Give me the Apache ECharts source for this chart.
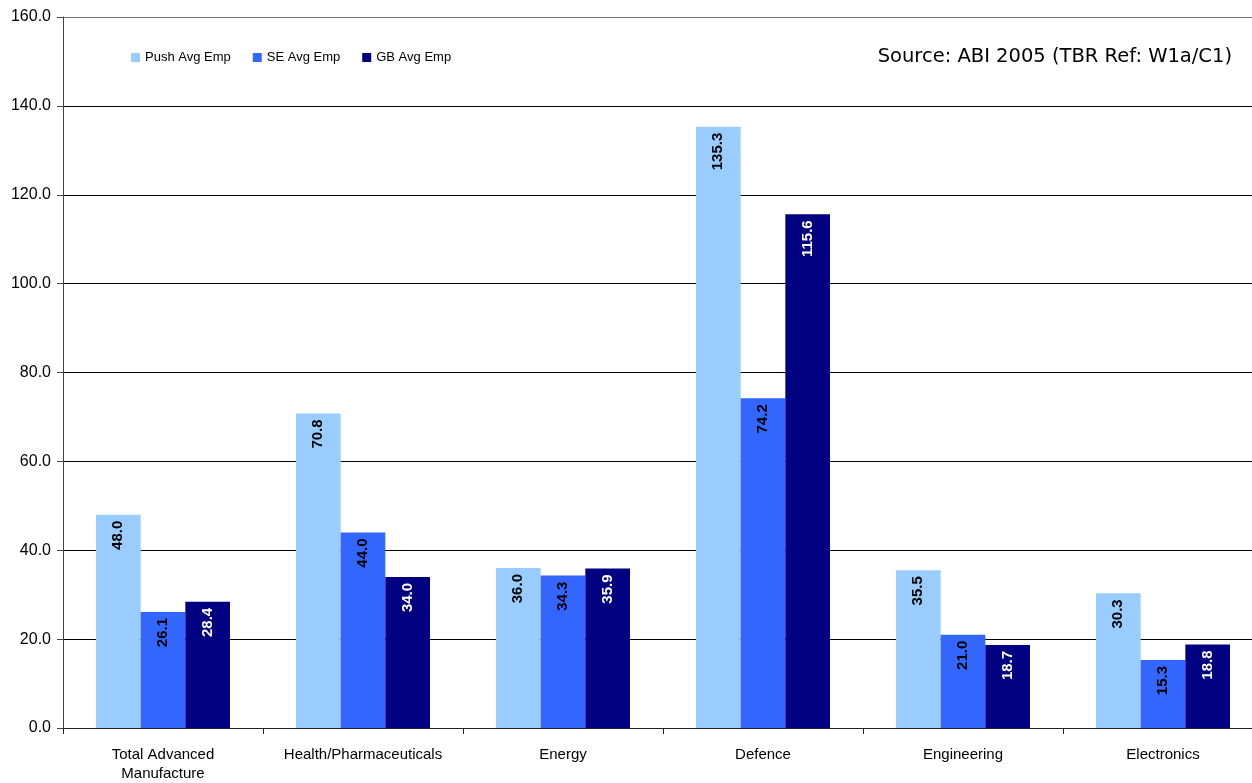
<!DOCTYPE html>
<html>
<head>
<meta charset="utf-8">
<script src="https://cdn.jsdelivr.net/npm/echarts@6/dist/echarts.min.js"></script>
<style>
  html, body { margin: 0; padding: 0; background: #fff; overflow: hidden; }
  /* the plot frame runs slightly past the right edge of the window */
  #chart { width: 1263px; height: 783px; }
</style>
</head>
<body>
<div id="chart"></div>
<script>
// Average employment per firm by sector
const categories = ['Total Advanced\nManufacture', 'Health/Pharmaceuticals', 'Energy', 'Defence', 'Engineering', 'Electronics'];
const pushAvgEmp = [48.0, 70.8, 36.0, 135.3, 35.5, 30.3];
const seAvgEmp = [26.1, 44.0, 34.3, 74.2, 21.0, 15.3];
const gbAvgEmp = [28.4, 34.0, 35.9, 115.6, 18.7, 18.8];
const seriesNames = ['Push Avg Emp', 'SE Avg Emp', 'GB Avg Emp'];
const sourceNote = 'Source: ABI 2005 (TBR Ref: W1a/C1)';

const font = '"Liberation Sans", Arial, sans-serif';

function barSeries(name, data, color, labelColor) {
  return {
    name: name,
    type: 'bar',
    data: data,
    barGap: '0%',
    barCategoryGap: '33%',
    itemStyle: { color: color },
    label: {
      show: true,
      position: 'insideTop',
      rotate: 90,
      align: 'right',
      verticalAlign: 'middle',
      distance: 6,
      color: labelColor,
      fontFamily: font,
      fontWeight: 'bold',
      fontSize: 15,
      formatter: p => p.value.toFixed(1)
    }
  };
}

// gridlines are black; the top edge of the plot is a grey frame line
const gridColors = ['#000', '#000', '#000', '#000', '#000', '#000', '#000', '#000', '#777'];

const chart = echarts.init(document.getElementById('chart'));
chart.setOption({
  animation: false,
  backgroundColor: '#ffffff',
  grid: { left: 63, top: 17, right: 0, bottom: 53 },
  legend: {
    left: 126, top: 46,
    itemWidth: 9, itemHeight: 9, itemGap: 22,
    icon: 'rect',
    textStyle: { fontFamily: font, fontSize: 13, color: '#000' },
    data: seriesNames
  },
  graphic: [{
    type: 'text',
    right: 31, top: 47,
    style: { text: sourceNote, font: '19.5px "DejaVu Sans", Tahoma, sans-serif', fill: '#000' }
  }],
  xAxis: {
    type: 'category',
    data: categories,
    axisLine: { lineStyle: { color: '#222', width: 1 } },
    axisTick: { show: true, length: 6, lineStyle: { color: '#222' } },
    axisLabel: { interval: 0, margin: 17, fontFamily: font, fontSize: 15, color: '#000', lineHeight: 19 }
  },
  yAxis: {
    type: 'value',
    min: 0, max: 160, interval: 20,
    axisLine: { show: true, lineStyle: { color: '#444', width: 1 } },
    axisTick: { show: true, length: 6, lineStyle: { color: '#444' } },
    axisLabel: { margin: 12, fontFamily: font, fontSize: 16, color: '#000', formatter: v => v.toFixed(1) },
    splitLine: { lineStyle: { color: gridColors, width: 1 } }
  },
  series: [
    barSeries(seriesNames[0], pushAvgEmp, '#99CCFF', '#000'),
    barSeries(seriesNames[1], seAvgEmp, '#3366FF', '#000'),
    barSeries(seriesNames[2], gbAvgEmp, '#000080', '#fff')
  ]
});
</script>
</body>
</html>
